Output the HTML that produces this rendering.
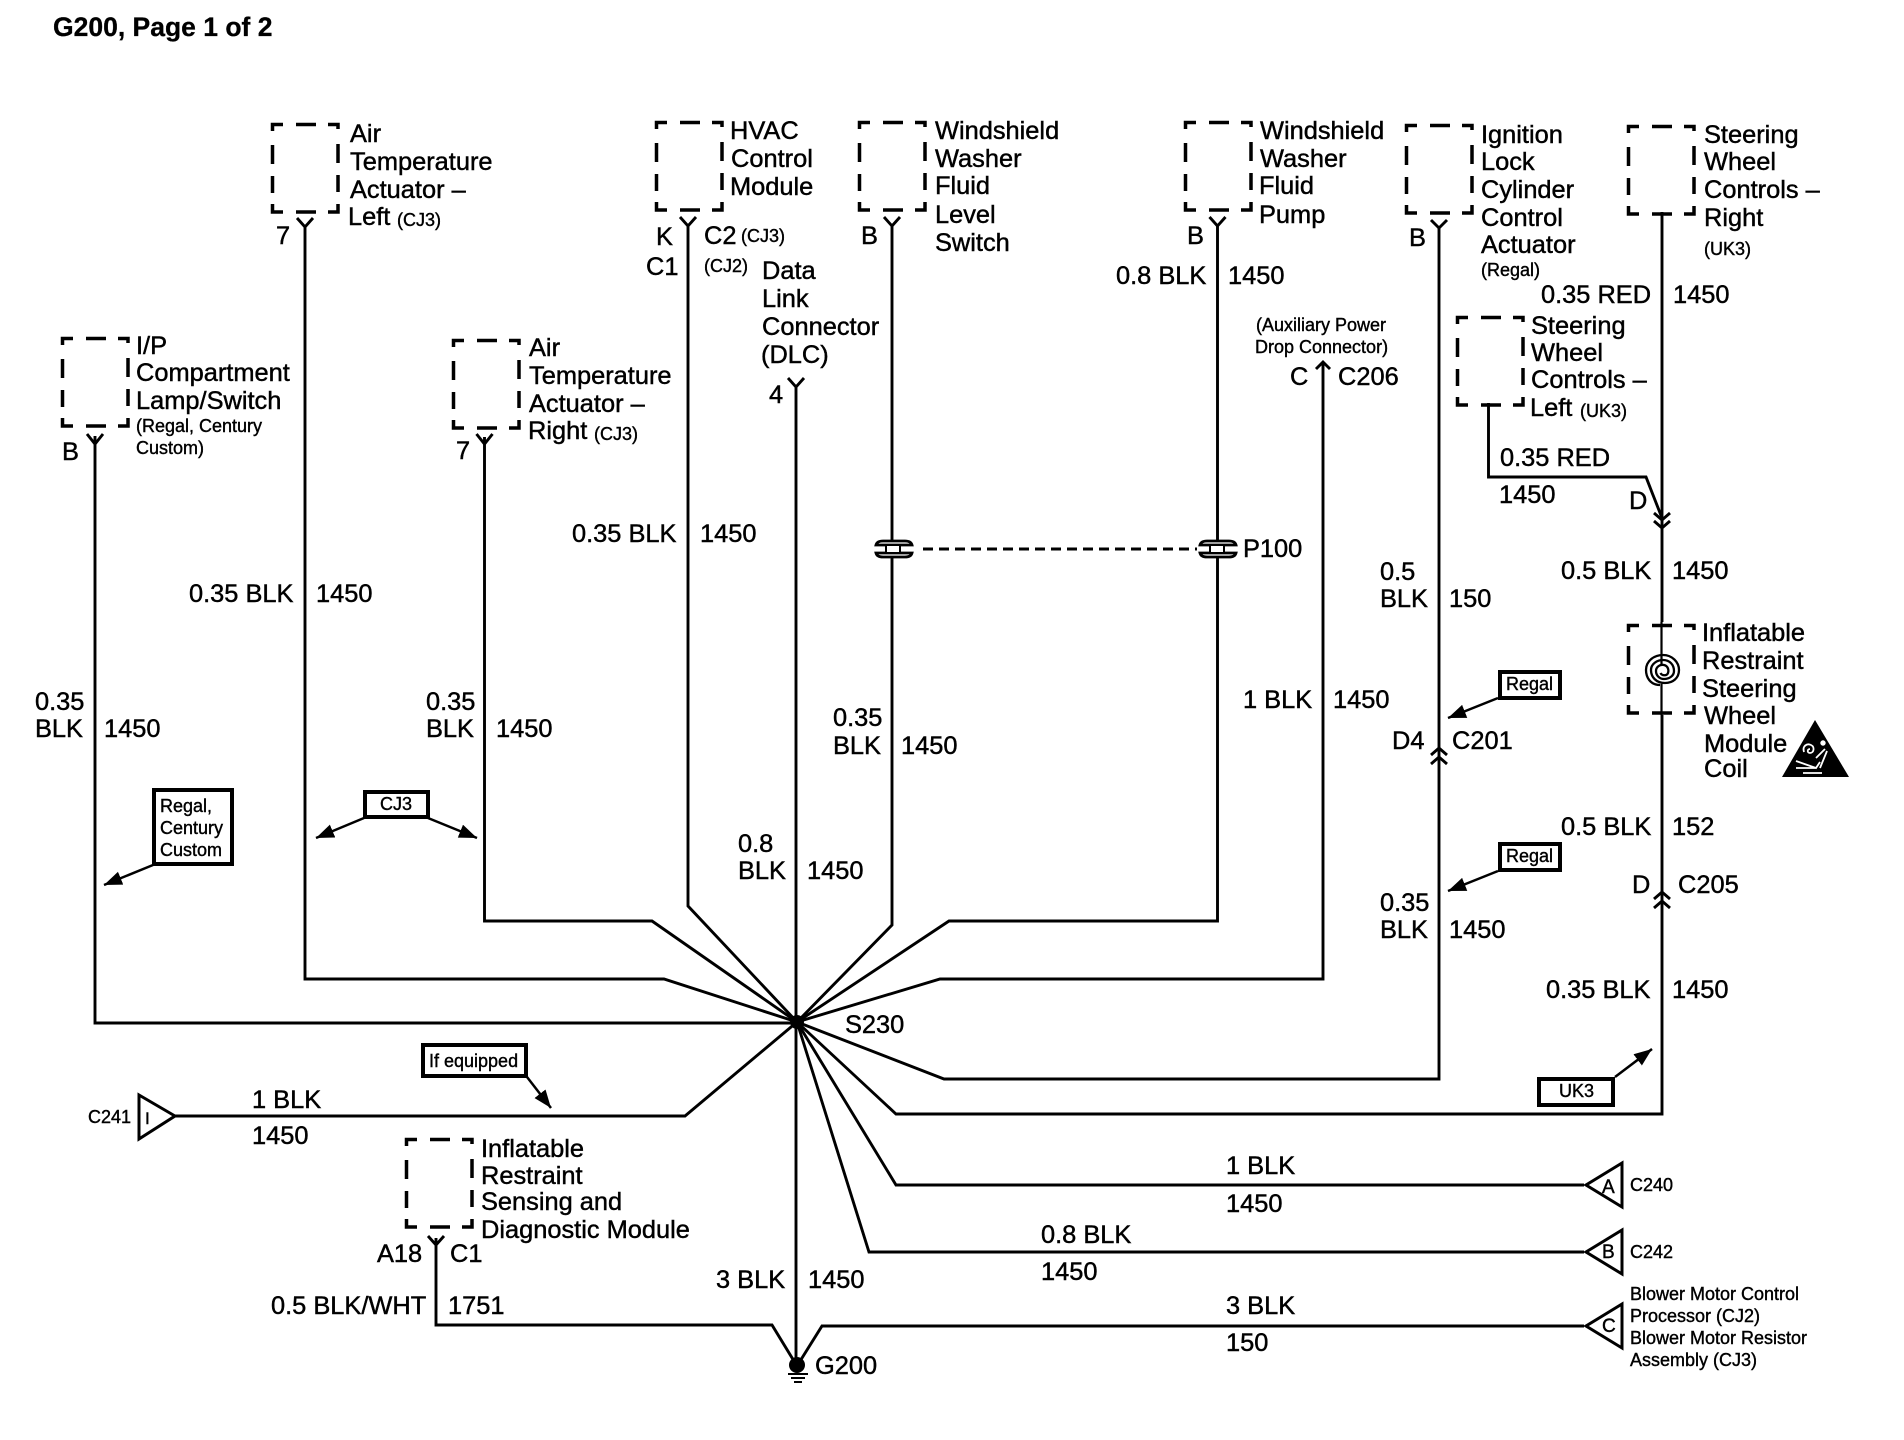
<!DOCTYPE html>
<html><head><meta charset="utf-8"><title>G200, Page 1 of 2</title>
<style>
html,body{margin:0;padding:0;background:#fff}
svg{display:block}
text{font-family:"Liberation Sans",sans-serif;font-size:25.4px;fill:#000;stroke:#000;stroke-width:.45}
.s{font-size:18px;stroke-width:.4}
.w{fill:none;stroke:#000;stroke-width:2.900}
.n{fill:#fff;stroke:#000;stroke-width:4}
.a{fill:none;stroke:#000;stroke-width:2.500;marker-end:url(#h)}
</style></head><body>
<svg width="1904" height="1440" viewBox="0 0 1904 1440" xmlns="http://www.w3.org/2000/svg">
<defs>
<marker id="h" markerUnits="userSpaceOnUse" markerWidth="20" markerHeight="16" refX="18" refY="7" orient="auto"><path d="M0 0L18 7L0 14z" fill="#000"/></marker>
<g id="b" fill="none" stroke="#000" stroke-width="3.5"><path d="M1.500 8V1.500H12M25 1.500H45M57 1.500H67V6M1.500 22V41M1.500 53V70M67 21V40M67 52V69M1.500 81V89H12M25 89H45M57 89H67V81"/></g>
<g id="p"><path d="M876 545Q877 541 883 541H905Q911 541 912 545z" fill="#fff" stroke="#000" stroke-width="2.800"/><path d="M876 553H912Q911 557 905 557H883Q877 557 876 553z" fill="#fff" stroke="#000" stroke-width="2.800"/><rect x="886" y="545" width="14" height="8" fill="#fff" stroke="#000" stroke-width="2"/></g>
</defs>
<rect width="1904" height="1440" fill="#fff"/>
<text x="53" y="36" style="font-size:26.5px;font-weight:bold;stroke-width:.3">G200, Page 1 of 2</text>

<!-- component boxes -->
<use href="#b" x="271" y="123"/><use href="#b" x="61" y="337"/><use href="#b" x="452" y="339"/>
<use href="#b" x="655" y="121"/><use href="#b" x="858" y="121"/><use href="#b" x="1184" y="121"/>
<use href="#b" x="1405" y="124"/><use href="#b" x="1627" y="125"/><use href="#b" x="1456" y="316"/>
<use href="#b" x="1627" y="624"/><use href="#b" x="405" y="1138"/>

<!-- wires -->
<g class="w">
<path d="M95 436V1023H797"/>
<path d="M305 226V979H664L797 1022"/>
<path d="M484.500 437V921H652L797 1022"/>
<path d="M688 226V906L797 1022"/>
<path d="M796 385V1366"/>
<path d="M892 226V925L797 1022"/>
<path d="M1217.500 226V921H949L797 1022"/>
<path d="M1323 363V979H940L797 1022"/>
<path d="M1439 226V1079H944L797 1022"/>
<path d="M1662 212V622"/>
<path d="M1662 715V1114H896L797 1022"/>
<path d="M1584 1185H896L797 1022"/>
<path d="M1584 1252H869L797 1022"/>
<path d="M1584 1326H822L797 1366"/>
<path d="M436 1238V1325H772L797 1366"/>
<path d="M175 1116H685L797 1022"/>
<path d="M1488.500 403V477H1646L1662 518"/>
<path d="M923 549H1197" stroke-dasharray="10 6"/>
<!-- Y terminals -->
<path d="M87 434L95 444L103 434"/>
<path d="M297 218L305 227L313 218"/>
<path d="M476.500 434L484.500 444L492.500 434"/>
<path d="M680 217L688 226L696 217"/>
<path d="M788 378L796 387L804 378"/>
<path d="M884 217L892 226L900 217"/>
<path d="M1209.500 217L1217.500 226L1225.500 217"/>
<path d="M1431 220L1439 228L1447 220"/>
<path d="M428 1236L436 1245L444 1236"/>
<!-- chevrons -->
<path d="M1316 369L1323 362L1330 369"/>
<path d="M1431 755L1439 748L1447 755M1431 764L1439 757L1447 764"/>
<path d="M1654 899L1662 892L1670 899M1654 908L1662 901L1670 908"/>
<path d="M1654 513L1662 520L1670 513M1654 521L1662 528L1670 521"/>
</g>

<!-- P100 -->
<use href="#p"/><use href="#p" x="324"/>

<!-- dots / ground -->
<circle cx="797" cy="1022" r="7" fill="#000"/>
<circle cx="797" cy="1365" r="8" fill="#000"/>
<path d="M788 1374H808M791 1378H805M794 1382H802" stroke="#000" stroke-width="2" fill="none"/>

<!-- connector triangles -->
<g fill="#fff" stroke="#000" stroke-width="3">
<path d="M139 1095L175 1116L139 1139z"/>
<path d="M1622 1163L1586 1185L1622 1207z"/>
<path d="M1622 1230L1586 1252L1622 1274z"/>
<path d="M1622 1304L1586 1326L1622 1348z"/>
</g>
<text x="145" y="1124" style="font-size:17px">I</text>
<text x="1602" y="1193" style="font-size:19px">A</text>
<text x="1602" y="1258" style="font-size:19px">B</text>
<text x="1602" y="1332" style="font-size:19px">C</text>

<!-- coil -->
<path d="M1661.500 622V664M1661.500 684V715" fill="none" stroke="#000" stroke-width="2.200"/>
<path d="M1660 685C1650 685 1646 677 1646 670C1646 661 1654 655 1663 655C1672 655 1679 662 1679 670C1679 678 1673 683 1665 683C1656 683 1651 677 1651 670C1651 664 1657 660 1663 660C1670 660 1674 665 1674 671C1674 676 1669 679 1664 679C1659 679 1656 675 1656 671C1656 667 1660 664 1664 665C1668 666 1669 670 1668 673C1667 676 1662 676 1660.500 673" fill="none" stroke="#000" stroke-width="2.300"/>

<!-- warning triangle -->
<path d="M1815 720L1782 777H1849z" fill="#000"/>
<g fill="none" stroke="#fff" stroke-width="1.800">
<path d="M1804 752C1802 746 1807 743 1811 745C1815 747 1814 753 1810 753C1807 753 1807 749 1810 749"/>
<path d="M1796 761L1816 768L1820 762M1796 768H1816M1803 773H1822M1827 751L1820 768M1816 758L1825 749"/>
<circle cx="1823" cy="743" r="1.800" fill="#fff"/>
</g>

<!-- note boxes -->
<rect class="n" x="154" y="790" width="78" height="74"/>
<rect class="n" x="365" y="792" width="63" height="25"/>
<rect class="n" x="423" y="1045" width="103" height="31"/>
<rect class="n" x="1500" y="672" width="60" height="26"/>
<rect class="n" x="1500" y="844" width="60" height="26"/>
<rect class="n" x="1539" y="1079" width="74" height="26"/>
<path class="a" d="M153 865L104 885"/>
<path class="a" d="M364 818L316 838"/>
<path class="a" d="M428 818L477 838"/>
<path class="a" d="M527 1077L551 1108"/>
<path class="a" d="M1498 698L1448 718"/>
<path class="a" d="M1498 871L1448 891"/>
<path class="a" d="M1615 1077L1652 1049"/>
<text class="s" x="160" y="812">Regal,</text><text class="s" x="160" y="834">Century</text><text class="s" x="160" y="856">Custom</text>
<text class="s" x="380" y="810">CJ3</text>
<text class="s" x="429" y="1067">If equipped</text>
<text class="s" x="1506" y="690">Regal</text>
<text class="s" x="1506" y="862">Regal</text>
<text class="s" x="1559" y="1097">UK3</text>

<!-- component labels -->
<text x="350" y="142">Air</text><text x="350" y="170">Temperature</text><text x="350" y="198">Actuator –</text><text x="348" y="225">Left</text><text class="s" x="397" y="226">(CJ3)</text>
<text x="276" y="244">7</text>
<text x="136" y="354">I/P</text><text x="136" y="381">Compartment</text><text x="136" y="409">Lamp/Switch</text><text class="s" x="136" y="432">(Regal, Century</text><text class="s" x="136" y="454">Custom)</text>
<text x="62" y="460">B</text>
<text x="529" y="356">Air</text><text x="529" y="384">Temperature</text><text x="529" y="412">Actuator –</text><text x="528" y="439">Right</text><text class="s" x="594" y="440">(CJ3)</text>
<text x="456" y="459">7</text>
<text x="730" y="139">HVAC</text><text x="731" y="167">Control</text><text x="730" y="195">Module</text>
<text x="656" y="245">K</text><text x="704" y="244">C2</text><text class="s" x="741" y="242">(CJ3)</text>
<text x="646" y="275">C1</text><text class="s" x="704" y="272">(CJ2)</text>
<text x="762" y="279">Data</text><text x="762" y="307">Link</text><text x="762" y="335">Connector</text><text x="761" y="363">(DLC)</text>
<text x="769" y="403">4</text>
<text x="935" y="139">Windshield</text><text x="935" y="167">Washer</text><text x="935" y="194">Fluid</text><text x="935" y="223">Level</text><text x="935" y="251">Switch</text>
<text x="861" y="244">B</text><text x="1187" y="244">B</text>
<text x="1260" y="139">Windshield</text><text x="1260" y="167">Washer</text><text x="1259" y="194">Fluid</text><text x="1259" y="223">Pump</text>
<text x="1116" y="284">0.8 BLK</text><text x="1228" y="284">1450</text>
<text class="s" x="1256" y="331">(Auxiliary Power</text><text class="s" x="1255" y="353">Drop Connector)</text>
<text x="1290" y="385">C</text><text x="1338" y="385">C206</text>
<text x="1243" y="557">P100</text>
<text x="1481" y="143">Ignition</text><text x="1481" y="170">Lock</text><text x="1481" y="198">Cylinder</text><text x="1481" y="226">Control</text><text x="1481" y="253">Actuator</text><text class="s" x="1481" y="276">(Regal)</text>
<text x="1409" y="246">B</text>
<text x="1704" y="143">Steering</text><text x="1704" y="170">Wheel</text><text x="1704" y="198">Controls –</text><text x="1704" y="226">Right</text><text class="s" x="1704" y="255">(UK3)</text>
<text x="1541" y="303">0.35 RED</text><text x="1673" y="303">1450</text>
<text x="1531" y="334">Steering</text><text x="1531" y="361">Wheel</text><text x="1531" y="388">Controls –</text><text x="1530" y="416">Left</text><text class="s" x="1580" y="417">(UK3)</text>
<text x="1500" y="466">0.35 RED</text><text x="1499" y="503">1450</text><text x="1629" y="509">D</text>
<text x="1702" y="641">Inflatable</text><text x="1702" y="669">Restraint</text><text x="1702" y="697">Steering</text><text x="1704" y="724">Wheel</text><text x="1704" y="752">Module</text><text x="1704" y="777">Coil</text>
<text x="481" y="1157">Inflatable</text><text x="481" y="1184">Restraint</text><text x="481" y="1210">Sensing and</text><text x="481" y="1238">Diagnostic Module</text>
<text x="377" y="1262">A18</text><text x="450" y="1262">C1</text>

<!-- wire labels -->
<text x="35" y="710">0.35</text><text x="35" y="737">BLK</text><text x="104" y="737">1450</text>
<text x="189" y="602">0.35 BLK</text><text x="316" y="602">1450</text>
<text x="426" y="710">0.35</text><text x="426" y="737">BLK</text><text x="496" y="737">1450</text>
<text x="572" y="542">0.35 BLK</text><text x="700" y="542">1450</text>
<text x="833" y="726">0.35</text><text x="833" y="754">BLK</text><text x="901" y="754">1450</text>
<text x="738" y="852">0.8</text><text x="738" y="879">BLK</text><text x="807" y="879">1450</text>
<text x="1243" y="708">1 BLK</text><text x="1333" y="708">1450</text>
<text x="1380" y="580">0.5</text><text x="1380" y="607">BLK</text><text x="1449" y="607">150</text>
<text x="1561" y="579">0.5 BLK</text><text x="1672" y="579">1450</text>
<text x="1392" y="749">D4</text><text x="1452" y="749">C201</text>
<text x="1561" y="835">0.5 BLK</text><text x="1672" y="835">152</text>
<text x="1632" y="893">D</text><text x="1678" y="893">C205</text>
<text x="1380" y="911">0.35</text><text x="1380" y="938">BLK</text><text x="1449" y="938">1450</text>
<text x="1546" y="998">0.35 BLK</text><text x="1672" y="998">1450</text>
<text x="845" y="1033">S230</text>
<text x="252" y="1108">1 BLK</text><text x="252" y="1144">1450</text>
<text x="1226" y="1174">1 BLK</text><text x="1226" y="1212">1450</text>
<text x="1041" y="1243">0.8 BLK</text><text x="1041" y="1280">1450</text>
<text x="1226" y="1314">3 BLK</text><text x="1226" y="1351">150</text>
<text x="716" y="1288">3 BLK</text><text x="808" y="1288">1450</text>
<text x="271" y="1314">0.5 BLK/WHT</text><text x="448" y="1314">1751</text>
<text x="815" y="1374">G200</text>
<text class="s" x="88" y="1123">C241</text>
<text class="s" x="1630" y="1191">C240</text>
<text class="s" x="1630" y="1258">C242</text>
<text class="s" x="1630" y="1300">Blower Motor Control</text>
<text class="s" x="1630" y="1322">Processor (CJ2)</text>
<text class="s" x="1630" y="1344">Blower Motor Resistor</text>
<text class="s" x="1630" y="1366">Assembly (CJ3)</text>
</svg>
</body></html>
